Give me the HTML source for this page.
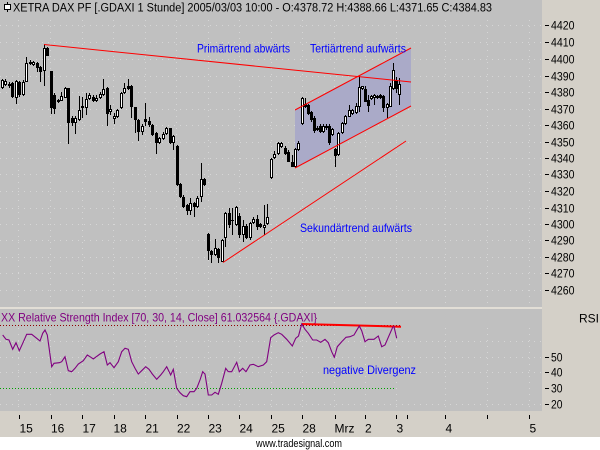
<!DOCTYPE html>
<html><head><meta charset="utf-8"><style>
html,body{margin:0;padding:0;background:#fff;}
svg{display:block;font-family:"Liberation Sans",Arial,sans-serif;}
</style></head><body>
<svg width="600" height="450" viewBox="0 0 600 450" xmlns="http://www.w3.org/2000/svg">
<rect x="0" y="0" width="600" height="450" fill="#d4d0c8"/>
<rect x="0" y="0" width="542" height="307" fill="#c0c0c0"/>
<rect x="0" y="307" width="542" height="2" fill="#e2ded6"/>
<rect x="0" y="309" width="542" height="102" fill="#c0c0c0"/>
<rect x="0" y="437" width="600" height="13" fill="#ffffff"/>

<!-- grid -->
<g stroke="#d6d6d6" stroke-width="1" stroke-dasharray="1,5" shape-rendering="crispEdges">
<line x1="0" y1="25.5" x2="542" y2="25.5"/><line x1="0" y1="42.5" x2="542" y2="42.5"/>
<line x1="0" y1="59.5" x2="542" y2="59.5"/><line x1="0" y1="76.5" x2="542" y2="76.5"/>
<line x1="0" y1="92.5" x2="542" y2="92.5"/><line x1="0" y1="109.5" x2="542" y2="109.5"/>
<line x1="0" y1="125.5" x2="542" y2="125.5"/><line x1="0" y1="142.5" x2="542" y2="142.5"/>
<line x1="0" y1="158.5" x2="542" y2="158.5"/><line x1="0" y1="174.5" x2="542" y2="174.5"/>
<line x1="0" y1="191.5" x2="542" y2="191.5"/><line x1="0" y1="208.5" x2="542" y2="208.5"/>
<line x1="0" y1="224.5" x2="542" y2="224.5"/><line x1="0" y1="240.5" x2="542" y2="240.5"/>
<line x1="0" y1="257.5" x2="542" y2="257.5"/><line x1="0" y1="273.5" x2="542" y2="273.5"/>
<line x1="0" y1="290.5" x2="542" y2="290.5"/>
<line x1="0" y1="341.5" x2="542" y2="341.5"/><line x1="0" y1="357.5" x2="542" y2="357.5"/>
<line x1="0" y1="372.5" x2="542" y2="372.5"/><line x1="0" y1="404.5" x2="542" y2="404.5"/>
<line x1="18.5" y1="20" x2="18.5" y2="307"/><line x1="50.5" y1="20" x2="50.5" y2="307"/>
<line x1="82.5" y1="20" x2="82.5" y2="307"/><line x1="113.5" y1="20" x2="113.5" y2="307"/>
<line x1="145.5" y1="20" x2="145.5" y2="307"/><line x1="176.5" y1="20" x2="176.5" y2="307"/>
<line x1="208.5" y1="20" x2="208.5" y2="307"/><line x1="239.5" y1="20" x2="239.5" y2="307"/>
<line x1="271.5" y1="20" x2="271.5" y2="307"/><line x1="302.5" y1="20" x2="302.5" y2="307"/>
<line x1="334.5" y1="20" x2="334.5" y2="307"/><line x1="365.5" y1="20" x2="365.5" y2="307"/>
<line x1="396.5" y1="20" x2="396.5" y2="307"/><line x1="445.5" y1="20" x2="445.5" y2="307"/>
<line x1="487.5" y1="20" x2="487.5" y2="307"/><line x1="529.5" y1="20" x2="529.5" y2="307"/>
<line x1="18.5" y1="328" x2="18.5" y2="411"/><line x1="50.5" y1="328" x2="50.5" y2="411"/>
<line x1="82.5" y1="328" x2="82.5" y2="411"/><line x1="113.5" y1="328" x2="113.5" y2="411"/>
<line x1="145.5" y1="328" x2="145.5" y2="411"/><line x1="176.5" y1="328" x2="176.5" y2="411"/>
<line x1="208.5" y1="328" x2="208.5" y2="411"/><line x1="239.5" y1="328" x2="239.5" y2="411"/>
<line x1="271.5" y1="328" x2="271.5" y2="411"/><line x1="302.5" y1="328" x2="302.5" y2="411"/>
<line x1="334.5" y1="328" x2="334.5" y2="411"/><line x1="365.5" y1="328" x2="365.5" y2="411"/>
<line x1="396.5" y1="328" x2="396.5" y2="411"/><line x1="445.5" y1="328" x2="445.5" y2="411"/>
<line x1="487.5" y1="328" x2="487.5" y2="411"/><line x1="529.5" y1="328" x2="529.5" y2="411"/>
</g>

<!-- channel fill -->
<polygon points="295,110 411,48 411,106 295,168" fill="#aaaac8"/>

<!-- candles -->
<g fill="#000" shape-rendering="crispEdges">
<rect x="2" y="79" width="1" height="10"/><rect x="1" y="80" width="3" height="8"/>
<rect x="5" y="79" width="1" height="7"/><rect x="4" y="81" width="3" height="4"/>
<rect x="9" y="82" width="1" height="6"/><rect x="8" y="84" width="3" height="2"/>
<rect x="12" y="82" width="1" height="16"/><rect x="11" y="83" width="3" height="14"/>
<rect x="16" y="80" width="1" height="24"/><rect x="15" y="81" width="3" height="17"/>
<rect x="19" y="81" width="1" height="16"/><rect x="18" y="82" width="3" height="13"/>
<rect x="23" y="80" width="1" height="16"/><rect x="22" y="82" width="3" height="13"/>
<rect x="26" y="57" width="1" height="25"/><rect x="25" y="63" width="3" height="19"/>
<rect x="30" y="60" width="1" height="5"/><rect x="29" y="62" width="3" height="2"/>
<rect x="33" y="61" width="1" height="5"/><rect x="32" y="62" width="3" height="3"/>
<rect x="37" y="62" width="1" height="10"/><rect x="36" y="63" width="3" height="5"/>
<rect x="40" y="66" width="1" height="16"/><rect x="39" y="67" width="3" height="5"/>
<rect x="44" y="44" width="1" height="42"/><rect x="43" y="48" width="3" height="23"/>
<rect x="47" y="47" width="1" height="9"/><rect x="46" y="48" width="3" height="8"/>
<rect x="51" y="71" width="1" height="43"/><rect x="50" y="71" width="3" height="37"/>
<rect x="54" y="93" width="1" height="21"/><rect x="53" y="95" width="3" height="14"/>
<rect x="58" y="99" width="1" height="4"/><rect x="57" y="100" width="3" height="2"/>
<rect x="61" y="92" width="1" height="9"/><rect x="60" y="96" width="3" height="5"/>
<rect x="65" y="87" width="1" height="11"/><rect x="64" y="88" width="3" height="10"/>
<rect x="68" y="88" width="1" height="56"/><rect x="67" y="88" width="3" height="35"/>
<rect x="72" y="116" width="1" height="10"/><rect x="71" y="118" width="3" height="5"/>
<rect x="75" y="116" width="1" height="18"/><rect x="74" y="118" width="3" height="5"/>
<rect x="79" y="96" width="1" height="25"/><rect x="78" y="110" width="3" height="10"/>
<rect x="82" y="97" width="1" height="21"/><rect x="81" y="106" width="3" height="2"/>
<rect x="86" y="93" width="1" height="22"/><rect x="85" y="99" width="3" height="9"/>
<rect x="89" y="93" width="1" height="7"/><rect x="88" y="95" width="3" height="4"/>
<rect x="93" y="95" width="1" height="7"/><rect x="92" y="97" width="3" height="4"/>
<rect x="96" y="95" width="1" height="7"/><rect x="95" y="98" width="3" height="3"/>
<rect x="100" y="92" width="1" height="7"/><rect x="99" y="94" width="3" height="4"/>
<rect x="103" y="79" width="1" height="17"/><rect x="102" y="89" width="3" height="6"/>
<rect x="107" y="87" width="1" height="39"/><rect x="106" y="88" width="3" height="26"/>
<rect x="110" y="105" width="1" height="10"/><rect x="109" y="109" width="3" height="3"/>
<rect x="114" y="113" width="1" height="11"/><rect x="113" y="116" width="3" height="3"/>
<rect x="117" y="109" width="1" height="9"/><rect x="116" y="110" width="3" height="7"/>
<rect x="121" y="92" width="1" height="17"/><rect x="120" y="93" width="3" height="15"/>
<rect x="124" y="83" width="1" height="11"/><rect x="123" y="88" width="3" height="5"/>
<rect x="128" y="79" width="1" height="11"/><rect x="127" y="86" width="3" height="3"/>
<rect x="131" y="85" width="1" height="33"/><rect x="130" y="86" width="3" height="21"/>
<rect x="135" y="107" width="1" height="26"/><rect x="134" y="107" width="3" height="13"/>
<rect x="138" y="119" width="1" height="22"/><rect x="137" y="120" width="3" height="12"/>
<rect x="142" y="124" width="1" height="11"/><rect x="141" y="126" width="3" height="6"/>
<rect x="145" y="103" width="1" height="23"/><rect x="144" y="119" width="3" height="3"/>
<rect x="149" y="117" width="1" height="10"/><rect x="148" y="121" width="3" height="4"/>
<rect x="152" y="124" width="1" height="12"/><rect x="151" y="125" width="3" height="10"/>
<rect x="156" y="132" width="1" height="22"/><rect x="155" y="133" width="3" height="10"/>
<rect x="159" y="137" width="1" height="7"/><rect x="158" y="138" width="3" height="5"/>
<rect x="163" y="132" width="1" height="8"/><rect x="162" y="134" width="3" height="5"/>
<rect x="166" y="127" width="1" height="8"/><rect x="165" y="128" width="3" height="6"/>
<rect x="170" y="128" width="1" height="16"/><rect x="169" y="128" width="3" height="15"/>
<rect x="173" y="135" width="1" height="15"/><rect x="172" y="136" width="3" height="7"/>
<rect x="177" y="145" width="1" height="41"/><rect x="176" y="146" width="3" height="39"/>
<rect x="180" y="183" width="1" height="15"/><rect x="179" y="184" width="3" height="13"/>
<rect x="183" y="195" width="1" height="13"/><rect x="182" y="197" width="3" height="10"/>
<rect x="187" y="204" width="1" height="11"/><rect x="186" y="205" width="3" height="6"/>
<rect x="190" y="198" width="1" height="17"/><rect x="189" y="203" width="3" height="8"/>
<rect x="194" y="202" width="1" height="15"/><rect x="193" y="203" width="3" height="4"/>
<rect x="197" y="196" width="1" height="12"/><rect x="196" y="198" width="3" height="9"/>
<rect x="201" y="163" width="1" height="39"/><rect x="200" y="179" width="3" height="18"/>
<rect x="204" y="178" width="1" height="8"/><rect x="203" y="179" width="3" height="6"/>
<rect x="208" y="233" width="1" height="27"/><rect x="207" y="234" width="3" height="17"/>
<rect x="211" y="250" width="1" height="13"/><rect x="210" y="251" width="3" height="4"/>
<rect x="215" y="239" width="1" height="17"/><rect x="214" y="248" width="3" height="7"/>
<rect x="218" y="248" width="1" height="15"/><rect x="217" y="249" width="3" height="9"/>
<rect x="222" y="239" width="1" height="23"/><rect x="221" y="240" width="3" height="22"/>
<rect x="225" y="212" width="1" height="35"/><rect x="224" y="213" width="3" height="25"/>
<rect x="229" y="208" width="1" height="20"/><rect x="228" y="213" width="3" height="12"/>
<rect x="232" y="208" width="1" height="27"/><rect x="231" y="220" width="3" height="1"/>
<rect x="236" y="206" width="1" height="20"/><rect x="235" y="207" width="3" height="18"/>
<rect x="239" y="213" width="1" height="25"/><rect x="238" y="216" width="3" height="19"/>
<rect x="243" y="220" width="1" height="22"/><rect x="242" y="226" width="3" height="9"/>
<rect x="246" y="224" width="1" height="15"/><rect x="245" y="226" width="3" height="12"/>
<rect x="250" y="222" width="1" height="18"/><rect x="249" y="223" width="3" height="15"/>
<rect x="253" y="217" width="1" height="7"/><rect x="252" y="219" width="3" height="4"/>
<rect x="257" y="215" width="1" height="15"/><rect x="256" y="219" width="3" height="8"/>
<rect x="260" y="223" width="1" height="5"/><rect x="259" y="224" width="3" height="3"/>
<rect x="264" y="205" width="1" height="30"/><rect x="263" y="225" width="3" height="3"/>
<rect x="267" y="204" width="1" height="21"/><rect x="266" y="217" width="3" height="7"/>
<rect x="271" y="158" width="1" height="21"/><rect x="270" y="159" width="3" height="19"/>
<rect x="274" y="151" width="1" height="8"/><rect x="273" y="154" width="3" height="4"/>
<rect x="278" y="142" width="1" height="13"/><rect x="277" y="143" width="3" height="11"/>
<rect x="281" y="142" width="1" height="6"/><rect x="280" y="143" width="3" height="4"/>
<rect x="285" y="146" width="1" height="9"/><rect x="284" y="148" width="3" height="6"/>
<rect x="288" y="150" width="1" height="12"/><rect x="287" y="152" width="3" height="10"/>
<rect x="292" y="155" width="1" height="12"/><rect x="291" y="162" width="3" height="5"/>
<rect x="295" y="148" width="1" height="20"/><rect x="294" y="149" width="3" height="18"/>
<rect x="298" y="141" width="1" height="10"/><rect x="297" y="143" width="3" height="7"/>
<rect x="302" y="97" width="1" height="28"/><rect x="301" y="98" width="3" height="26"/>
<rect x="305" y="98" width="1" height="10"/><rect x="304" y="104" width="3" height="3"/>
<rect x="308" y="104" width="1" height="11"/><rect x="307" y="105" width="3" height="9"/>
<rect x="311" y="111" width="1" height="11"/><rect x="310" y="112" width="3" height="8"/>
<rect x="314" y="116" width="1" height="17"/><rect x="313" y="118" width="3" height="13"/>
<rect x="317" y="126" width="1" height="5"/><rect x="316" y="128" width="3" height="2"/>
<rect x="320" y="124" width="1" height="9"/><rect x="319" y="126" width="3" height="6"/>
<rect x="323" y="124" width="1" height="9"/><rect x="322" y="126" width="3" height="6"/>
<rect x="326" y="124" width="1" height="6"/><rect x="325" y="126" width="3" height="2"/>
<rect x="329" y="124" width="1" height="21"/><rect x="328" y="126" width="3" height="17"/>
<rect x="332" y="128" width="1" height="8"/><rect x="331" y="129" width="3" height="6"/>
<rect x="335" y="148" width="1" height="19"/><rect x="334" y="149" width="3" height="7"/>
<rect x="338" y="132" width="1" height="24"/><rect x="337" y="133" width="3" height="22"/>
<rect x="342" y="122" width="1" height="12"/><rect x="341" y="123" width="3" height="10"/>
<rect x="345" y="115" width="1" height="10"/><rect x="344" y="116" width="3" height="8"/>
<rect x="349" y="105" width="1" height="12"/><rect x="348" y="110" width="3" height="7"/>
<rect x="352" y="109" width="1" height="6"/><rect x="351" y="110" width="3" height="4"/>
<rect x="356" y="103" width="1" height="11"/><rect x="355" y="106" width="3" height="7"/>
<rect x="359" y="76" width="1" height="36"/><rect x="358" y="87" width="3" height="20"/>
<rect x="362" y="86" width="1" height="4"/><rect x="361" y="86" width="3" height="3"/>
<rect x="365" y="86" width="1" height="16"/><rect x="364" y="89" width="3" height="13"/>
<rect x="368" y="95" width="1" height="17"/><rect x="367" y="100" width="3" height="6"/>
<rect x="371" y="95" width="1" height="5"/><rect x="370" y="96" width="3" height="3"/>
<rect x="374" y="94" width="1" height="11"/><rect x="373" y="95" width="3" height="3"/>
<rect x="377" y="95" width="1" height="4"/><rect x="376" y="96" width="3" height="2"/>
<rect x="380" y="94" width="1" height="5"/><rect x="379" y="95" width="3" height="3"/>
<rect x="383" y="95" width="1" height="17"/><rect x="382" y="96" width="3" height="12"/>
<rect x="387" y="103" width="1" height="15"/><rect x="386" y="104" width="3" height="4"/>
<rect x="390" y="83" width="1" height="24"/><rect x="389" y="86" width="3" height="21"/>
<rect x="393" y="63" width="1" height="27"/><rect x="392" y="70" width="3" height="19"/>
<rect x="396" y="77" width="1" height="16"/><rect x="395" y="80" width="3" height="9"/>
<rect x="399" y="78" width="1" height="27"/><rect x="398" y="84" width="3" height="11"/>
</g>
<g fill="#fff" shape-rendering="crispEdges">
<rect x="2" y="81" width="1" height="6"/><rect x="5" y="82" width="1" height="2"/>
<rect x="16" y="82" width="1" height="15"/><rect x="23" y="83" width="1" height="11"/>
<rect x="26" y="64" width="1" height="17"/><rect x="33" y="63" width="1" height="1"/>
<rect x="44" y="49" width="1" height="21"/><rect x="61" y="97" width="1" height="3"/>
<rect x="65" y="89" width="1" height="8"/><rect x="75" y="119" width="1" height="3"/>
<rect x="79" y="111" width="1" height="8"/><rect x="86" y="100" width="1" height="7"/>
<rect x="89" y="96" width="1" height="2"/><rect x="96" y="99" width="1" height="1"/>
<rect x="100" y="95" width="1" height="2"/><rect x="103" y="90" width="1" height="4"/>
<rect x="110" y="110" width="1" height="1"/><rect x="114" y="117" width="1" height="1"/>
<rect x="117" y="111" width="1" height="5"/><rect x="121" y="94" width="1" height="13"/>
<rect x="124" y="89" width="1" height="3"/><rect x="142" y="127" width="1" height="4"/>
<rect x="159" y="139" width="1" height="3"/><rect x="163" y="135" width="1" height="3"/>
<rect x="166" y="129" width="1" height="4"/><rect x="173" y="137" width="1" height="5"/>
<rect x="190" y="204" width="1" height="6"/><rect x="197" y="199" width="1" height="7"/>
<rect x="201" y="180" width="1" height="16"/><rect x="215" y="249" width="1" height="5"/>
<rect x="222" y="241" width="1" height="20"/><rect x="225" y="214" width="1" height="23"/>
<rect x="236" y="208" width="1" height="16"/><rect x="243" y="227" width="1" height="7"/>
<rect x="250" y="224" width="1" height="13"/><rect x="253" y="220" width="1" height="2"/>
<rect x="264" y="226" width="1" height="1"/><rect x="267" y="218" width="1" height="5"/>
<rect x="271" y="160" width="1" height="17"/><rect x="274" y="155" width="1" height="2"/>
<rect x="278" y="144" width="1" height="9"/><rect x="281" y="144" width="1" height="2"/>
<rect x="295" y="150" width="1" height="16"/><rect x="298" y="144" width="1" height="5"/>
<rect x="302" y="99" width="1" height="24"/><rect x="323" y="127" width="1" height="4"/>
<rect x="332" y="130" width="1" height="4"/><rect x="338" y="134" width="1" height="20"/>
<rect x="342" y="124" width="1" height="8"/><rect x="345" y="117" width="1" height="6"/>
<rect x="349" y="111" width="1" height="5"/><rect x="352" y="111" width="1" height="2"/>
<rect x="356" y="107" width="1" height="5"/><rect x="359" y="88" width="1" height="18"/>
<rect x="362" y="87" width="1" height="1"/><rect x="371" y="97" width="1" height="1"/>
<rect x="374" y="96" width="1" height="1"/><rect x="387" y="105" width="1" height="2"/>
<rect x="390" y="87" width="1" height="19"/><rect x="393" y="71" width="1" height="17"/>
<rect x="399" y="85" width="1" height="9"/>
</g>

<!-- trend lines -->
<g stroke="#ff0000" stroke-width="1" fill="none">
<line x1="44" y1="44.5" x2="411" y2="82"/>
<line x1="295" y1="110" x2="411" y2="48"/>
<line x1="295" y1="168" x2="411" y2="106"/>
<line x1="223" y1="262.5" x2="406" y2="141"/>
</g>

<!-- title -->
<line x1="7.5" y1="2" x2="7.5" y2="12" stroke="#000" stroke-width="1"/>
<rect x="4.5" y="4.5" width="6" height="5" fill="#fff" stroke="#000" stroke-width="1"/>
<text x="13" y="11.5" font-size="11.5" fill="#000" textLength="479" lengthAdjust="spacingAndGlyphs">XETRA DAX PF [.GDAXI  1 Stunde] 2005/03/03 10:00 - O:4378.72 H:4388.66 L:4371.65 C:4384.83</text>

<!-- annotations -->
<g fill="#0000ff" font-size="12">
<text x="197" y="52.5" textLength="93" lengthAdjust="spacingAndGlyphs">Primärtrend abwärts</text>
<text x="310" y="52.5" textLength="96" lengthAdjust="spacingAndGlyphs">Tertiärtrend aufwärts</text>
<text x="300" y="232" textLength="112" lengthAdjust="spacingAndGlyphs">Sekundärtrend aufwärts</text>
<text x="323" y="374" textLength="93" lengthAdjust="spacingAndGlyphs">negative Divergenz</text>
</g>

<!-- price axis -->
<g fill="#000" shape-rendering="crispEdges">
<rect x="545" y="25" width="4" height="1"/><rect x="545" y="42" width="4" height="1"/>
<rect x="545" y="59" width="4" height="1"/><rect x="545" y="76" width="4" height="1"/>
<rect x="545" y="92" width="4" height="1"/><rect x="545" y="109" width="4" height="1"/>
<rect x="545" y="125" width="4" height="1"/><rect x="545" y="142" width="4" height="1"/>
<rect x="545" y="158" width="4" height="1"/><rect x="545" y="174" width="4" height="1"/>
<rect x="545" y="191" width="4" height="1"/><rect x="545" y="208" width="4" height="1"/>
<rect x="545" y="224" width="4" height="1"/><rect x="545" y="240" width="4" height="1"/>
<rect x="545" y="257" width="4" height="1"/><rect x="545" y="273" width="4" height="1"/>
<rect x="545" y="290" width="4" height="1"/>
<rect x="545" y="357" width="4" height="1"/><rect x="545" y="372" width="4" height="1"/>
<rect x="545" y="388" width="4" height="1"/><rect x="545" y="404" width="4" height="1"/>
</g>
<g fill="#000" font-size="11.5">
<text x="551" y="29.5" textLength="23.5" lengthAdjust="spacingAndGlyphs">4420</text>
<text x="551" y="46.5" textLength="23.5" lengthAdjust="spacingAndGlyphs">4410</text>
<text x="551" y="63.5" textLength="23.5" lengthAdjust="spacingAndGlyphs">4400</text>
<text x="551" y="80.5" textLength="23.5" lengthAdjust="spacingAndGlyphs">4390</text>
<text x="551" y="96.5" textLength="23.5" lengthAdjust="spacingAndGlyphs">4380</text>
<text x="551" y="113.5" textLength="23.5" lengthAdjust="spacingAndGlyphs">4370</text>
<text x="551" y="129.5" textLength="23.5" lengthAdjust="spacingAndGlyphs">4360</text>
<text x="551" y="146.5" textLength="23.5" lengthAdjust="spacingAndGlyphs">4350</text>
<text x="551" y="162.5" textLength="23.5" lengthAdjust="spacingAndGlyphs">4340</text>
<text x="551" y="178.5" textLength="23.5" lengthAdjust="spacingAndGlyphs">4330</text>
<text x="551" y="195.5" textLength="23.5" lengthAdjust="spacingAndGlyphs">4320</text>
<text x="551" y="212.5" textLength="23.5" lengthAdjust="spacingAndGlyphs">4310</text>
<text x="551" y="228.5" textLength="23.5" lengthAdjust="spacingAndGlyphs">4300</text>
<text x="551" y="244.5" textLength="23.5" lengthAdjust="spacingAndGlyphs">4290</text>
<text x="551" y="261.5" textLength="23.5" lengthAdjust="spacingAndGlyphs">4280</text>
<text x="551" y="277.5" textLength="23.5" lengthAdjust="spacingAndGlyphs">4270</text>
<text x="551" y="294.5" textLength="23.5" lengthAdjust="spacingAndGlyphs">4260</text>
<text x="551" y="361.5" textLength="11.5" lengthAdjust="spacingAndGlyphs">50</text>
<text x="551" y="376.5" textLength="11.5" lengthAdjust="spacingAndGlyphs">40</text>
<text x="551" y="392.5" textLength="11.5" lengthAdjust="spacingAndGlyphs">30</text>
<text x="551" y="408.5" textLength="11.5" lengthAdjust="spacingAndGlyphs">20</text>
<text x="579" y="322.5" font-size="12">RSI</text>
</g>

<!-- RSI panel -->
<text x="1" y="321.5" font-size="12" fill="#800080" textLength="316" lengthAdjust="spacingAndGlyphs">XX Relative Strength Index [70, 30, 14, Close] 61.032564 {.GDAXI}</text>
<line x1="0" y1="325.5" x2="400" y2="325.5" stroke="#900000" stroke-width="1" stroke-dasharray="1,2" shape-rendering="crispEdges"/>
<line x1="0" y1="388.5" x2="396" y2="388.5" stroke="#00a000" stroke-width="1" stroke-dasharray="1,2" shape-rendering="crispEdges"/>
<line x1="301.5" y1="324" x2="401" y2="326.7" stroke="#ff0000" stroke-width="2"/>
<polyline fill="none" stroke="#800080" stroke-width="1.1" points="2.7,335 6,339.3 9,340 12.7,349.3 16,342.7 19.3,350.7 22.7,343.3 26.7,334.3 31.7,334.3 36.7,338.3 40,341 42.7,333.3 45,330 47.3,335 51.7,366.7 54,363.3 59.3,362.7 61.7,361.7 65,356.7 68.3,370.7 71.7,371.7 75,368.3 78.3,364 83.3,360.7 87.3,355 90,356.7 93.3,359 100,354 104,351.7 107.3,365 110,362.7 114,367.7 118.3,361.7 121.7,351.7 125,348.3 128.3,349.3 131.7,361.7 135,368.3 138.3,374 141.7,370.7 145.7,366.7 149,369.3 152.3,374 156.7,379.3 160.7,375 163.3,371.7 166.7,366.7 170.7,375 173.3,369.3 176.7,388.3 180,392.7 183.3,395.7 186.7,396.7 190,391.7 194,391.7 196.7,388.3 200,380 202.7,371.7 205,374 208.3,395 211.7,395 215,392.3 218.3,394.3 221.7,383.3 225.7,368.3 228.3,371.7 231.7,371.7 236.7,362.3 239.3,371.7 242.7,368.3 246,371.7 250,365 253.3,364.3 258.3,366.7 263.3,365 266.7,361.7 270.7,337.7 274,335 278.3,332.7 281.7,334.3 286.7,339.3 292.3,346 295.7,338.3 298.5,336 301.7,324 305,329.3 308.3,333.3 312.7,340 316.7,340 320.7,342.3 325,339.3 328.3,342.7 331.7,351.7 334.3,357.3 337.3,346.7 341.7,341.7 346,337.3 350,336.7 354,335 357.3,329.3 359.3,326 361.7,330.7 365,341.7 368.3,339.3 374,339.3 378.3,336 381.7,346.7 385,345 388.3,337.3 392.7,327.3 394,326.7 396.7,338.3"/>

<!-- date axis -->
<g fill="#000" shape-rendering="crispEdges">
<rect x="19" y="415" width="1" height="4"/><rect x="51" y="415" width="1" height="4"/>
<rect x="82" y="415" width="1" height="4"/><rect x="114" y="415" width="1" height="4"/>
<rect x="145" y="415" width="1" height="4"/><rect x="177" y="415" width="1" height="4"/>
<rect x="208" y="415" width="1" height="4"/><rect x="239" y="415" width="1" height="4"/>
<rect x="271" y="415" width="1" height="4"/><rect x="302" y="415" width="1" height="4"/>
<rect x="335" y="415" width="1" height="4"/><rect x="365" y="415" width="1" height="4"/>
<rect x="396" y="415" width="1" height="4"/><rect x="407" y="415" width="1" height="4"/>
<rect x="445" y="415" width="1" height="4"/><rect x="487" y="415" width="1" height="4"/>
<rect x="529" y="415" width="1" height="4"/>
</g>
<g fill="#000" font-size="12">
<text x="19.5" y="432.5">15</text>
<text x="51" y="432.5">16</text>
<text x="82.5" y="432.5">17</text>
<text x="113.5" y="432.5">18</text>
<text x="145.5" y="432.5">21</text>
<text x="177" y="432.5">22</text>
<text x="208.5" y="432.5">23</text>
<text x="239.5" y="432.5">24</text>
<text x="271.5" y="432.5">25</text>
<text x="302.5" y="432.5">28</text>
<text x="334.5" y="432.5">Mrz</text>
<text x="365" y="432.5">2</text>
<text x="396.5" y="432.5">3</text>
<text x="445.5" y="432.5">4</text>
<text x="529.5" y="432.5">5</text>
</g>
<text x="256" y="447" font-size="11" fill="#000" textLength="86" lengthAdjust="spacingAndGlyphs">www.tradesignal.com</text>
</svg>
</body></html>
